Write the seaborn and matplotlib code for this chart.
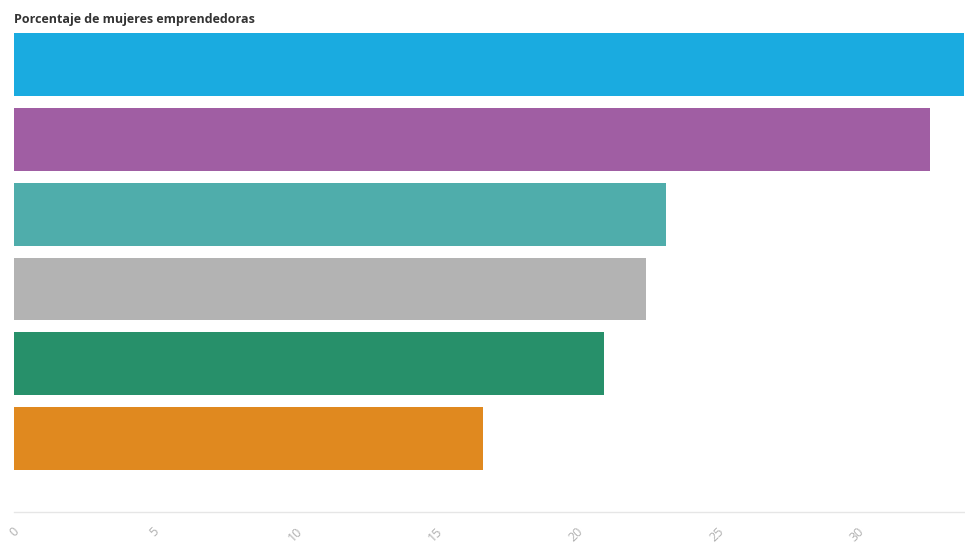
import pandas as pd
import matplotlib
matplotlib.use("Agg")
import matplotlib.pyplot as plt
import seaborn as sns

# Data (categories are not labelled in the chart)
categorias = ["Grupo 1", "Grupo 2", "Grupo 3", "Grupo 4", "Grupo 5", "Grupo 6"]
porcentaje = [33.8, 32.6, 23.2, 22.5, 21.0, 16.7]
colores = ["#1aabe0", "#a05ea3", "#4fadab", "#b3b3b3", "#27906a", "#e0891f"]
ticks_x = [0, 5, 10, 15, 20, 25, 30]

df = pd.DataFrame({"categoria": categorias, "valor": porcentaje})

sns.set_theme(style="white")
plt.rcParams["font.family"] = ["Open Sans", "DejaVu Sans"]

fig = plt.figure(figsize=(9.65, 5.44), dpi=100)
ax = fig.add_axes([14 / 965, 1 - 512 / 544, 950 / 965, 485 / 544])

sns.barplot(data=df, y="categoria", x="valor", hue="categoria",
            palette=colores, width=0.84, legend=False, ax=ax,
            saturation=1, edgecolor="none")

ax.set_xlim(0, max(porcentaje))
ax.set_ylim(5.98, -0.5)
ax.set_xlabel("")
ax.set_ylabel("")
ax.set_yticks([])
ax.set_xticks(ticks_x)
ax.set_xticklabels([str(t) for t in ticks_x], rotation=45, ha="center",
                   color="#b0b0b0", fontsize=9)
ax.tick_params(axis="x", length=4, color="#e6e6e6", pad=5)
for side in ["top", "right", "left"]:
    ax.spines[side].set_visible(False)
ax.spines["bottom"].set_color("#e6e6e6")
ax.spines["bottom"].set_linewidth(1)

fig.text(14 / 965, 1 - 20 / 544, "Porcentaje de mujeres emprendedoras",
         fontsize=9, fontweight="bold", color="#333333", va="center", ha="left")

fig.savefig("out.png", dpi=100)
